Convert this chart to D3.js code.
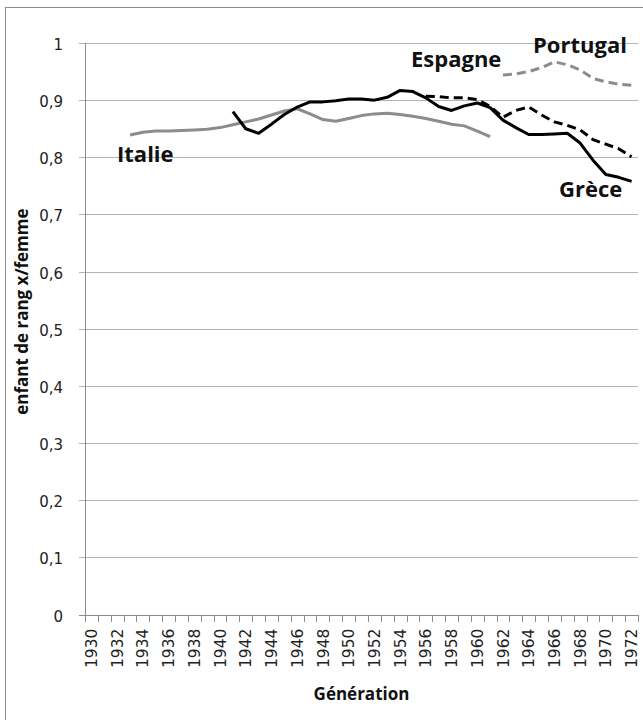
<!DOCTYPE html>
<html>
<head>
<meta charset="utf-8">
<script src="https://cdn.jsdelivr.net/npm/d3@7"></script>
<style>
  html, body { margin: 0; padding: 0; background: #fff; }
  svg { display: block; }
</style>
</head>
<body>
<svg id="chart" width="643" height="720"></svg>
<script>
// Generations on the category axis
const years = d3.range(1930, 1973);
const xLabelYears = years.filter(y => y % 2 === 0);
const yTicks = [0, 0.1, 0.2, 0.3, 0.4, 0.5, 0.6, 0.7, 0.8, 0.9, 1];

// Children of rank x per woman, by generation
const italieStart = 1933;
const italie = [0.839, 0.844, 0.846, 0.846, 0.847, 0.848, 0.849, 0.852, 0.857, 0.862,
                0.867, 0.874, 0.881, 0.885, 0.876, 0.866, 0.863, 0.868, 0.873, 0.876,
                0.877, 0.875, 0.872, 0.868, 0.863, 0.858, 0.855, 0.846, 0.836];

const greceStart = 1941;
const grece = [0.880, 0.850, 0.842, 0.858, 0.875, 0.888, 0.897, 0.897, 0.899, 0.902,
               0.902, 0.900, 0.905, 0.917, 0.915, 0.904, 0.889, 0.882, 0.890, 0.895,
               0.887, 0.865, 0.852, 0.840, 0.840, 0.841, 0.842, 0.825, 0.795, 0.770,
               0.765, 0.758];

const espagneStart = 1956;
const espagne = [0.907, 0.906, 0.904, 0.904, 0.901, 0.889, 0.870, 0.882, 0.888, 0.874,
                 0.862, 0.856, 0.848, 0.831, 0.823, 0.815, 0.801];

const portugalStart = 1962;
const portugal = [0.944, 0.946, 0.950, 0.957, 0.967, 0.962, 0.953, 0.938, 0.932, 0.928, 0.926];

// Series label anchors (generation, value)
const labelNames = ["Italie", "Espagne", "Portugal", "Grèce"];
const labelYears = [1931.99, 1954.85, 1964.34, 1966.36];
const labelValues = [0.792, 0.958, 0.982, 0.730];

const svg = d3.select("#chart");
const margin = { left: 85, right: 5, top: 43, bottom: 105.4 };
const W = 643, H = 720;

const x = d3.scaleBand().domain(years).range([margin.left, 638]).paddingInner(0).paddingOuter(0);
const y = d3.scaleLinear().domain([0, 1]).range([H - margin.bottom, margin.top]);
const xc = d3.scaleLinear()
  .domain([years[0], years[years.length - 1]])
  .range([x(years[0]) + x.bandwidth() / 2, x(years[years.length - 1]) + x.bandwidth() / 2]);

const fr = d3.formatLocale({ decimal: ",", thousands: " ", grouping: [3], currency: ["", " €"] });
const fmt = fr.format(".1~f");

const gridColor = "#b4b4b4";
const axisColor = "#8c8c8c";
const fontLabel = "'Open Sans', 'DejaVu Sans', sans-serif";
const fontTick = "'DejaVu Sans', sans-serif";

// Chart frame
svg.append("rect")
  .attr("x", 5.5).attr("y", 7.5)
  .attr("width", 660).attr("height", 730)
  .attr("fill", "none").attr("stroke", axisColor).attr("stroke-width", 1);

// Horizontal gridlines with their outer tick marks
svg.append("g")
  .selectAll("line")
  .data(yTicks)
  .join("line")
  .attr("x1", margin.left - 6)
  .attr("x2", x.range()[1])
  .attr("y1", d => Math.round(y(d)) + 0.5)
  .attr("y2", d => Math.round(y(d)) + 0.5)
  .attr("stroke", d => d === 0 ? axisColor : gridColor)
  .attr("stroke-width", 1);

// Y axis labels
const yAxis = d3.axisLeft(y).tickValues(yTicks).tickFormat(fmt).tickSize(0).tickPadding(22);
const gy = svg.append("g").attr("transform", `translate(${margin.left},0)`).call(yAxis);
gy.select(".domain").remove();
gy.selectAll("text")
  .attr("font-family", fontTick)
  .attr("font-size", 15)
  .attr("fill", "#222")
  .attr("dy", "0.36em")
  .attr("y", 1);

// Vertical axis line
svg.append("line")
  .attr("x1", margin.left + 0.5).attr("x2", margin.left + 0.5)
  .attr("y1", y(1)).attr("y2", y(0) + 6)
  .attr("stroke", axisColor);

// X axis tick marks at category boundaries
const boundaries = years.map(d => x(d)).concat([x.range()[1]]);
svg.append("g")
  .selectAll("line")
  .data(boundaries)
  .join("line")
  .attr("x1", d => Math.round(d) + 0.5)
  .attr("x2", d => Math.round(d) + 0.5)
  .attr("y1", Math.round(y(0)))
  .attr("y2", Math.round(y(0)) + 7)
  .attr("stroke", axisColor);

// X axis labels (rotated)
const xAxis = d3.axisBottom(x).tickValues(xLabelYears).tickSize(0).tickFormat(d3.format("d"));
const gx = svg.append("g").attr("transform", `translate(0,${y(0)})`).call(xAxis);
gx.select(".domain").remove();
gx.selectAll("text")
  .attr("font-family", fontTick)
  .attr("font-size", 15.5)
  .attr("fill", "#222")
  .attr("text-anchor", "end")
  .attr("transform", "rotate(-90)")
  .attr("x", -14)
  .attr("y", 0)
  .attr("dy", "0.36em");

// Axis titles
svg.append("text")
  .attr("x", xc(1951))
  .attr("y", 700)
  .attr("text-anchor", "middle")
  .attr("font-family", fontLabel)
  .attr("font-weight", "bold")
  .attr("font-size", 17)
  .attr("fill", "#111")
  .text("Génération");

svg.append("text")
  .attr("transform", `translate(28,${y(0.53)}) rotate(-90)`)
  .attr("text-anchor", "middle")
  .attr("font-family", fontLabel)
  .attr("font-weight", "bold")
  .attr("font-size", 17)
  .attr("fill", "#111")
  .text("enfant de rang x/femme");

// Series lines
function seriesPoints(start, values) {
  return values.map((v, i) => ({ year: start + i, value: v }));
}
const line = d3.line()
  .x(d => x(d.year) + x.bandwidth() / 2)
  .y(d => y(d.value));

const series = [
  { data: seriesPoints(italieStart, italie), color: "#8c8c8c", dash: null },
  { data: seriesPoints(portugalStart, portugal), color: "#8c8c8c", dash: "9,5" },
  { data: seriesPoints(espagneStart, espagne), color: "#000", dash: "9,5" },
  { data: seriesPoints(greceStart, grece), color: "#000", dash: null }
];

svg.append("g")
  .selectAll("path")
  .data(series)
  .join("path")
  .attr("d", d => line(d.data))
  .attr("fill", "none")
  .attr("stroke", d => d.color)
  .attr("stroke-width", 3)
  .attr("stroke-linejoin", "round")
  .attr("stroke-dasharray", d => d.dash);

// Series labels
svg.append("g")
  .selectAll("text")
  .data(labelNames)
  .join("text")
  .attr("x", (d, i) => xc(labelYears[i]))
  .attr("y", (d, i) => y(labelValues[i]))
  .attr("font-family", fontLabel)
  .attr("font-weight", "bold")
  .attr("font-size", 22)
  .attr("fill", "#111")
  .text(d => d);
</script>
</body>
</html>
